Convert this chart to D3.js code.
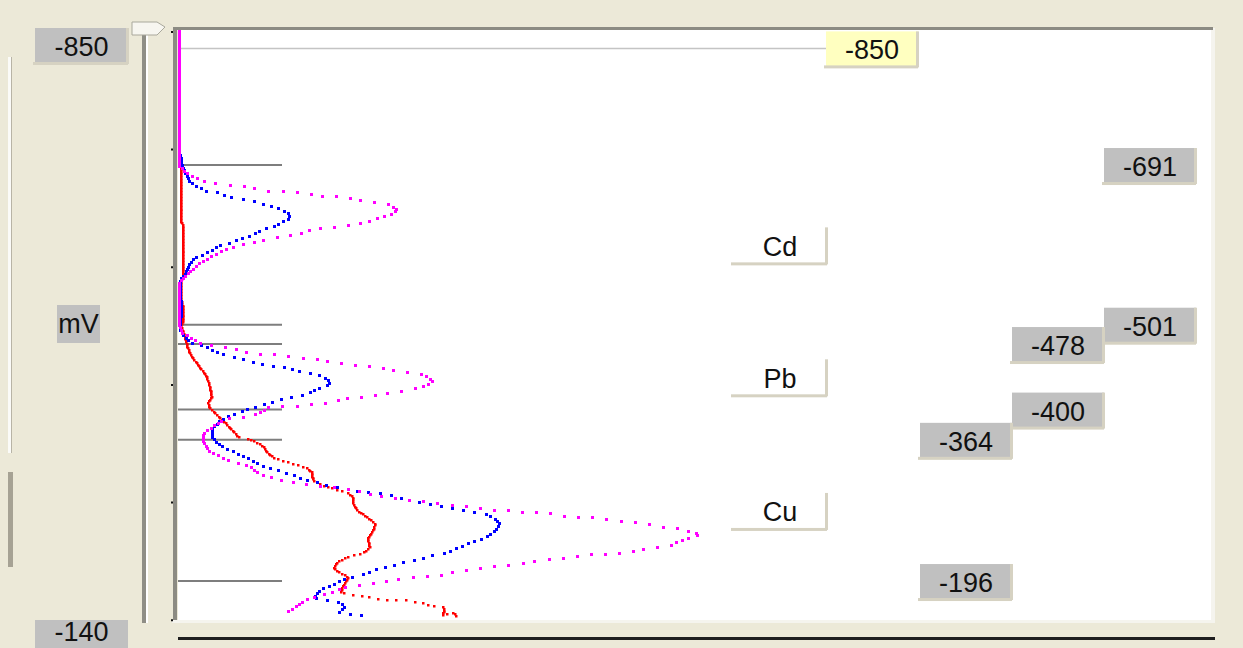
<!DOCTYPE html>
<html>
<head>
<meta charset="utf-8">
<script src="https://cdn.jsdelivr.net/npm/d3@7/dist/d3.min.js"></script>
<style>
  html, body { margin: 0; padding: 0; background: #ECE9D8; }
  svg { display: block; }
  text { font-family: "Liberation Sans", Arial, sans-serif; font-size: 27px; fill: #111; }
</style>
</head>
<body>
<svg id="chart" width="1243" height="648"></svg>
<script>
// ---------------- data ----------------
const rangeTop = -850;
const rangeBottom = -140;
const unitLabel = "mV";
const cursorValue = -850;
const axisTicks = [-850, -710, -570, -430, -290, -150];
const markerValues = [-691, -501, -478, -400, -364, -196];
const elements = ["Cd", "Pb", "Cu"];
const elementWindows = [[-691, -501], [-478, -400], [-364, -196]];

// [potential mV, current (arb.)]
const redScan = [[-850,1],[-697,1],[-688,3],[-623,3],[-621,5],[-557,5],[-552,3],[-530,3],[-524,5],[-504,5],[-500,3],[-486,7],[-473,10],[-463,14],[-455,19],[-447,24],[-438,29],[-427,32],[-415,34],[-408,30],[-402,32],[-396,37],[-390,42],[-382,49],[-372,57],[-366,62],[-366,69],[-360,80],[-354,87],[-348,90],[-342,97],[-338,107],[-334,119],[-330,130],[-325,134],[-316,135],[-313,139],[-308,149],[-304,159],[-301,169],[-296,175],[-290,175],[-280,179],[-271,190],[-263,198],[-254,194],[-247,190],[-236,192],[-229,186],[-225,171],[-219,160],[-211,156],[-205,163],[-200,171],[-189,165],[-182,163],[-179,179],[-176,192],[-173,209],[-173,226],[-170,242],[-165,259],[-164,267],[-155,265],[-158,276],[-153,279]];

const blueScan = [[-850,1],[-703,1],[-701,3],[-691,4],[-683,7],[-670,12],[-664,22],[-659,30],[-658,40],[-653,52],[-649,69],[-646,82],[-641,95],[-637,105],[-632,112],[-626,110],[-622,102],[-617,95],[-614,85],[-608,75],[-604,65],[-599,55],[-596,44],[-590,35],[-584,25],[-580,17],[-574,12],[-564,9],[-558,5],[-552,2],[-536,2],[-530,3],[-509,3],[-495,2],[-486,7],[-480,12],[-476,24],[-471,34],[-466,42],[-463,54],[-460,64],[-457,74],[-453,87],[-451,99],[-450,109],[-445,119],[-444,129],[-441,139],[-438,147],[-433,152],[-428,149],[-425,140],[-420,132],[-416,122],[-414,112],[-411,102],[-408,92],[-404,82],[-402,72],[-397,64],[-394,55],[-390,47],[-384,40],[-378,35],[-372,34],[-366,35],[-360,39],[-354,47],[-348,59],[-342,69],[-336,79],[-330,92],[-322,115],[-316,129],[-313,139],[-309,152],[-307,165],[-302,182],[-300,202],[-296,219],[-290,236],[-286,255],[-283,274],[-278,293],[-275,309],[-269,318],[-263,322],[-254,316],[-247,307],[-241,292],[-235,280],[-229,267],[-225,251],[-221,238],[-217,223],[-213,211],[-209,198],[-203,184],[-200,171],[-195,161],[-191,154],[-188,148],[-183,140],[-177,137],[-173,140],[-173,150],[-170,163],[-164,167],[-159,161],[-155,181],[-153,192]];

const magentaScan = [[-850,1],[-691,1],[-682,7],[-673,22],[-670,34],[-667,45],[-667,57],[-665,69],[-661,82],[-659,97],[-659,114],[-657,130],[-653,145],[-653,160],[-651,174],[-647,187],[-646,204],[-643,214],[-637,219],[-633,214],[-629,205],[-627,199],[-623,189],[-620,177],[-617,164],[-617,152],[-615,139],[-610,124],[-605,105],[-603,89],[-598,74],[-595,60],[-590,47],[-582,34],[-574,22],[-566,14],[-558,7],[-552,2],[-530,1],[-501,1],[-491,5],[-479,22],[-475,39],[-473,52],[-469,65],[-466,77],[-466,90],[-464,105],[-461,119],[-461,134],[-457,149],[-455,160],[-453,172],[-451,189],[-450,202],[-446,215],[-444,227],[-444,239],[-440,247],[-434,255],[-429,249],[-425,239],[-423,229],[-421,219],[-419,205],[-416,195],[-415,184],[-414,172],[-410,160],[-408,149],[-407,137],[-404,125],[-404,114],[-403,102],[-402,90],[-394,79],[-391,67],[-390,57],[-388,45],[-379,35],[-373,27],[-366,25],[-358,27],[-350,32],[-344,42],[-338,52],[-336,62],[-332,72],[-325,79],[-320,90],[-317,100],[-313,117],[-310,131],[-308,146],[-307,161],[-301,186],[-295,209],[-292,232],[-289,255],[-286,276],[-283,297],[-280,316],[-280,332],[-278,345],[-276,372],[-272,391],[-272,408],[-270,422],[-266,445],[-265,462],[-261,479],[-259,496],[-255,512],[-251,523],[-246,508],[-238,492],[-236,479],[-234,466],[-230,452],[-228,429],[-227,408],[-222,383],[-222,366],[-217,345],[-214,328],[-213,311],[-209,297],[-208,284],[-203,265],[-201,253],[-201,238],[-198,219],[-194,202],[-191,186],[-189,169],[-183,156],[-178,142],[-176,133],[-170,123],[-164,117],[-157,108]];

const seriesNames = ["red", "blue", "magenta"];
const seriesColors = ["#FF0000", "#0000FF", "#FF00FF"];

// ---------------- layout ----------------
const svg = d3.select("#chart");
const plot = { left: 178, right: 1211, top: 30, bottom: 620 };
const y = d3.scaleLinear().domain([rangeTop, rangeBottom]).range([31.4, 628.1]);
const x = d3.scaleLinear().domain([0, 1034]).range([178, 1212]);

const edge = "#D6D2C2";

// left-side window chrome
svg.append("rect").attr("x", 8).attr("y", 57).attr("width", 3).attr("height", 396).attr("fill", "#FBFBF8");
svg.append("rect").attr("x", 11).attr("y", 57).attr("width", 1).attr("height", 396).attr("fill", "#B8B4A6");
svg.append("rect").attr("x", 8).attr("y", 472).attr("width", 5).attr("height", 95).attr("fill", "#A6A294");

// slider groove and thumb
svg.append("rect").attr("x", 142).attr("y", 34).attr("width", 4).attr("height", 589).attr("fill", "#8F8E86");
svg.append("rect").attr("x", 146).attr("y", 34).attr("width", 2).attr("height", 589).attr("fill", "#FFFFFF");
svg.append("polygon")
  .attr("points", "132,22 157,22 165,27 157,35 132,35")
  .attr("fill", "#F7F6F0").attr("stroke", "#A9A89C").attr("stroke-width", 1);

// plot background
svg.append("rect").attr("x", plot.left).attr("y", plot.top)
  .attr("width", plot.right - plot.left).attr("height", plot.bottom - plot.top).attr("fill", "#FFFFFF");
svg.append("rect").attr("x", plot.right).attr("y", 28).attr("width", 4).attr("height", plot.bottom - 26).attr("fill", "#F5F4EE");
svg.append("rect").attr("x", 172).attr("y", plot.bottom).attr("width", plot.right - 168).attr("height", 3).attr("fill", "#F5F4EE");
svg.append("rect").attr("x", 173).attr("y", 27).attr("width", plot.right - 171).attr("height", 3).attr("fill", "#8C8B83");
svg.append("rect").attr("x", 173).attr("y", 27).attr("width", 4).attr("height", plot.bottom - 27).attr("fill", "#8C8B83");

// bottom black line
svg.append("rect").attr("x", 178).attr("y", 637).attr("width", 1037).attr("height", 3).attr("fill", "#1E1E1E");

// axis tick dots (via d3 axis)
const axisG = svg.append("g").attr("transform", "translate(173,0)")
  .call(d3.axisLeft(y).tickValues(axisTicks).tickSize(2).tickFormat(""));
axisG.select(".domain").remove();
axisG.selectAll(".tick line").attr("stroke", "#111").attr("stroke-width", 2);

// marker lines
svg.append("g").selectAll("line").data(markerValues).join("line")
  .attr("x1", plot.left).attr("x2", 282)
  .attr("y1", d => y(d)).attr("y2", d => y(d))
  .attr("stroke", "#7E7E7E").attr("stroke-width", 2);

// cursor line
const cursorY = y(cursorValue) + 17;
svg.append("line").attr("x1", plot.left).attr("x2", 826).attr("y1", cursorY).attr("y2", cursorY)
  .attr("stroke", "#C4C4C4").attr("stroke-width", 1.5);

// ---------------- curves ----------------
const clip = svg.append("defs").append("clipPath").attr("id", "plotclip");
clip.append("rect").attr("x", plot.left).attr("y", plot.top).attr("width", plot.right - plot.left).attr("height", plot.bottom - plot.top);
const curveG = svg.append("g").attr("clip-path", "url(#plotclip)");

function sampleDots(pts, dyStep, maxLen) {
  const out = [pts[0]];
  let accDy = 0, accLen = 0;
  let prev = pts[0];
  for (let i = 1; i < pts.length; i++) {
    const a = pts[i - 1], b = pts[i];
    const L = Math.hypot(b[0] - a[0], b[1] - a[1]);
    const n = Math.max(1, Math.ceil(L / 0.5));
    for (let s = 1; s <= n; s++) {
      const t = s / n;
      const p = [a[0] + (b[0] - a[0]) * t, a[1] + (b[1] - a[1]) * t];
      accDy += Math.abs(p[1] - prev[1]);
      accLen += Math.hypot(p[0] - prev[0], p[1] - prev[1]);
      if (accDy >= dyStep || accLen >= maxLen) {
        out.push(p); accDy = 0; accLen = 0;
      }
      prev = p;
    }
  }
  return out;
}

const scans = [redScan, blueScan, magentaScan];
const dotRules = [[1.4, 9, 2.5], [2.3, 11, 3], [2.3, 14, 3]];
scans.forEach((scan, i) => {
  const pts = scan.map(d => [x(d[1]), y(d[0])]);
  const dots = sampleDots(pts, dotRules[i][0], dotRules[i][1]);
  const s = dotRules[i][2];
  curveG.append("g").attr("class", "series-" + seriesNames[i])
    .selectAll("rect").data(dots).join("rect")
    .attr("x", d => Math.round(d[0] - s / 2)).attr("y", d => Math.round(d[1] - s / 2))
    .attr("width", s).attr("height", s)
    .attr("fill", seriesColors[i]);
});

// ---------------- labels ----------------
function box(g, x0, yc, w, h, fill, text, borders, dy) {
  const gg = g.append("g");
  gg.append("rect").attr("x", x0).attr("y", yc - h / 2).attr("width", w).attr("height", h).attr("fill", fill);
  if (borders) {
    gg.append("rect").attr("x", x0 - 2).attr("y", yc + h / 2 - 2).attr("width", w + 2).attr("height", 3).attr("fill", edge);
    gg.append("rect").attr("x", x0 + w - 2).attr("y", yc - h / 2).attr("width", 3).attr("height", h).attr("fill", edge);
  }
  gg.append("text").attr("x", x0 + w / 2).attr("y", yc + (dy == null ? 10 : dy)).attr("text-anchor", "middle").text(text);
  return gg;
}

const labelsG = svg.append("g");
elementWindows.forEach((win, i) => {
  const col = elements.length - 1 - i;
  win.forEach(v => {
    box(labelsG, 920 + col * 92, y(v) + 1, 92, 36, "#C0C0C0", String(v), true);
  });
  const mid = (win[0] + win[1]) / 2;
  box(labelsG, 733, y(mid) + 1, 94, 37, "#FFFFFF", elements[i], true);
});

// cursor label
box(labelsG, 826, cursorY + 1, 92, 36, "#FFFFC0", String(cursorValue), true);

// left range labels
box(labelsG, 35, 46, 93, 36, "#C0C0C0", String(rangeTop), true);
box(labelsG, 35, 634, 93, 28, "#C0C0C0", String(rangeBottom), false, 7);
// unit
labelsG.append("rect").attr("x", 57).attr("y", 305).attr("width", 43).attr("height", 38).attr("fill", "#C0C0C0");
labelsG.append("text").attr("x", 78.5).attr("y", 333).attr("text-anchor", "middle").text(unitLabel);
</script>
</body>
</html>
